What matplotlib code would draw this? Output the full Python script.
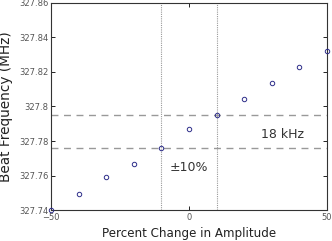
import numpy as np
import matplotlib.pyplot as plt

# --- Data ---
pct_change = [-50, -40, -30, -20, -10, 0, 10, 20, 30, 40, 50]
beat_freq = [327.7400, 327.7493, 327.7590, 327.7668, 327.7757, 327.7872,
             327.7952, 327.8041, 327.8138, 327.8227, 327.8322]
band_pct = [-10, 10]
band_freq = [327.7757, 327.7952]

x_ticks = [-50, 0, 50]
y_ticks = [327.74, 327.76, 327.78, 327.8, 327.82, 327.84, 327.86]
y_tick_labels = ['327.74', '327.76', '327.78', '327.8', '327.82', '327.84', '327.86']

# --- Figure ---
fig = plt.figure(figsize=(3.32, 2.41), dpi=100)
ax = fig.add_axes([0.154, 0.1286, 0.831, 0.859])

# reference lines
for yv in band_freq:
    ax.axhline(yv, color='#999999', linestyle=(0, (5, 4)), linewidth=1.0, zorder=1)
for xv in band_pct:
    ax.axvline(xv, color='#999999', linestyle=(0, (1, 1)), linewidth=0.8, zorder=1)

ax.plot(pct_change, beat_freq, linestyle='none', marker='o', markersize=3.2,
        markerfacecolor='none', markeredgecolor='#2e2e8a', markeredgewidth=0.7,
        clip_on=False, zorder=3)

ax.text(34, 327.7835, '18 kHz', ha='center', va='center', fontsize=9, color='#333333')
ax.text(0, 327.7645, '\u00b110%', ha='center', va='center', fontsize=9, color='#333333')

ax.set_xlim(-50, 50)
ax.set_ylim(327.74, 327.86)
ax.set_xticks(x_ticks)
ax.set_xticklabels([str(v).replace('-', '\u2212') for v in x_ticks])
ax.set_yticks(y_ticks)
ax.set_yticklabels(y_tick_labels)
ax.tick_params(direction='in', length=3, width=0.6, labelsize=6, labelcolor='#555555',
               top=True, right=True, pad=2)

for s in ax.spines.values():
    s.set_linewidth(0.8)
    s.set_color('#333333')

ax.set_xlabel('Percent Change in Amplitude', fontsize=8.6, color='#222222', labelpad=4)
ax.set_ylabel('Beat Frequency (MHz)', fontsize=9.8, color='#222222')
ax.yaxis.set_label_coords(-0.14, 0.5)

fig.savefig('out.png', dpi=100)
